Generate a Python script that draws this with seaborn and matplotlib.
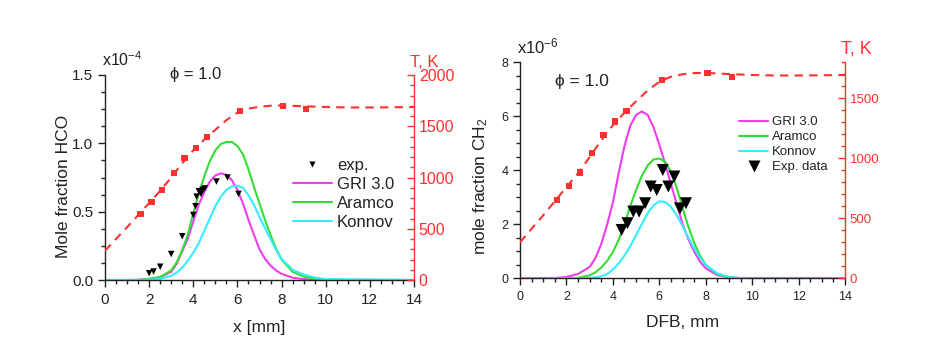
import matplotlib
matplotlib.use("Agg")
import matplotlib.pyplot as plt
from matplotlib.lines import Line2D
from matplotlib.ticker import MultipleLocator, FormatStrFormatter
import seaborn as sns

# common x grid of the model curves (mm)
x_grid = [0, 1.0, 1.5, 2.0, 2.5, 3.0, 3.25, 3.5, 3.75, 4.0, 4.25, 4.5, 4.75, 5.0, 5.25, 5.5,
          5.75, 6.0, 6.25, 6.5, 6.75, 7.0, 7.25, 7.5, 7.75, 8.0, 8.5, 9.0, 9.5, 10.0, 14.0]

# HCO mole fraction, units of 1e-4
hco_gri = [0, 0, 0.001, 0.008, 0.02, 0.06, 0.12, 0.21, 0.30, 0.43, 0.55, 0.645, 0.72, 0.765, 0.78, 0.77,
           0.73, 0.66, 0.56, 0.44, 0.33, 0.225, 0.155, 0.105, 0.07, 0.045, 0.017, 0.006, 0.002, 0, 0]
hco_aramco = [0, 0, 0.001, 0.008, 0.022, 0.07, 0.13, 0.22, 0.33, 0.49, 0.63, 0.76, 0.87, 0.95, 0.995, 1.01,
              1.01, 0.98, 0.92, 0.81, 0.68, 0.56, 0.44, 0.33, 0.23, 0.15, 0.06, 0.025, 0.009, 0.002, 0]
hco_konnov = [0, 0, 0, 0.002, 0.008, 0.03, 0.055, 0.09, 0.14, 0.2, 0.27, 0.36, 0.45, 0.54, 0.61, 0.66,
              0.685, 0.69, 0.675, 0.62, 0.55, 0.46, 0.38, 0.30, 0.22, 0.155, 0.075, 0.04, 0.018, 0.007, 0]
hco_exp_x = [2.0, 2.2, 2.5, 3.0, 3.5, 4.0, 4.1, 4.15, 4.25, 4.35, 4.42, 4.52, 5.05, 5.55, 6.05]
hco_exp_y = [0.05, 0.062, 0.097, 0.19, 0.32, 0.476, 0.54, 0.61, 0.65, 0.63, 0.66, 0.67, 0.72, 0.75, 0.63]

# CH2 mole fraction, units of 1e-6
ch2_gri = [0, 0, 0.01, 0.05, 0.16, 0.42, 0.75, 1.27, 1.98, 2.8, 3.9, 4.9, 5.65, 6.05, 6.18, 6.05,
           5.6, 4.95, 4.25, 3.5, 2.75, 2.02, 1.45, 1.0, 0.62, 0.37, 0.12, 0.03, 0.005, 0, 0]
ch2_aramco = [0, 0, 0, 0.003, 0.015, 0.11, 0.22, 0.4, 0.64, 0.97, 1.42, 2.0, 2.67, 3.27, 3.8, 4.18,
              4.4, 4.44, 4.32, 3.95, 3.35, 2.62, 1.92, 1.32, 0.85, 0.5, 0.15, 0.035, 0.006, 0, 0]
ch2_konnov = [0, 0, 0, 0.001, 0.005, 0.015, 0.035, 0.075, 0.16, 0.32, 0.55, 0.84, 1.19, 1.6, 2.02, 2.41,
              2.7, 2.85, 2.83, 2.65, 2.33, 1.94, 1.51, 1.11, 0.77, 0.5, 0.18, 0.05, 0.011, 0.002, 0]
ch2_exp_x = [4.38, 4.63, 4.88, 5.13, 5.39, 5.63, 5.89, 6.15, 6.39, 6.65, 6.89, 7.15]
ch2_exp_y = [1.79, 2.04, 2.47, 2.47, 2.78, 3.40, 3.27, 4.01, 3.40, 3.77, 2.59, 2.78]

# temperature, K
t_hco_x = [1.61, 2.11, 2.59, 3.11, 3.60, 4.12, 4.62, 6.11, 8.08, 9.09]
t_hco = [647, 758, 875, 1041, 1187, 1291, 1392, 1649, 1701, 1668]
t_hco_line_x = [0, 1, 2, 2.5, 3, 3.5, 4, 4.5, 5, 5.5, 6, 6.5, 7, 7.5, 8, 9, 10, 11, 12, 13, 14]
t_hco_line = [286, 515, 750, 870, 1000, 1140, 1265, 1370, 1465, 1560, 1632, 1672, 1690, 1700, 1703,
              1695, 1688, 1683, 1683, 1685, 1688]

t_ch2_x = [1.61, 2.10, 2.60, 3.10, 3.60, 4.09, 4.59, 6.10, 8.08, 9.12]
t_ch2 = [653, 769, 881, 1047, 1197, 1306, 1394, 1653, 1711, 1675]
t_ch2_line_x = [0, 1, 2, 2.5, 3, 3.5, 4, 4.5, 5, 5.5, 6, 6.5, 7, 7.5, 8, 9, 10, 11, 12, 13, 14]
t_ch2_line = [300, 525, 760, 875, 1010, 1150, 1275, 1380, 1475, 1565, 1638, 1680, 1700, 1710, 1712,
              1702, 1694, 1690, 1690, 1692, 1694]

sns.set_style("ticks")
plt.rcParams['font.family'] = ['Liberation Sans', 'DejaVu Sans']
plt.rcParams['mathtext.default'] = 'regular'

RED = '#ff3030'
MAG = '#f03cf0'
GRN = '#33dd33'
CYN = '#33eeff'
INK = '#222222'

W, H = 931, 364
fig = plt.figure(figsize=(W / 100, H / 100), dpi=100)


def px(x, y):
    return x / W, 1 - y / H


def setup(ax, axT, ymax, ymaj, ymin, tmax, fs, tfs):
    ax.set_xlim(0, 14)
    ax.set_ylim(0, ymax)
    axT.set_ylim(0, tmax)
    ax.xaxis.set_major_locator(MultipleLocator(2))
    ax.xaxis.set_minor_locator(MultipleLocator(0.5))
    ax.yaxis.set_major_locator(MultipleLocator(ymaj))
    ax.yaxis.set_minor_locator(MultipleLocator(ymin))
    axT.yaxis.set_major_locator(MultipleLocator(500))
    axT.yaxis.set_minor_locator(MultipleLocator(100))
    for s in ['top', 'right']:
        ax.spines[s].set_visible(False)
    for s in ['top', 'left', 'bottom']:
        axT.spines[s].set_visible(False)
    for s in ['left', 'bottom']:
        ax.spines[s].set_color(INK)
        ax.spines[s].set_linewidth(1.0)
    axT.spines['right'].set_color(RED)
    axT.spines['right'].set_linewidth(1.0)
    ax.tick_params(which='major', direction='out', length=5, width=1, color=INK,
                   labelsize=fs, labelcolor=INK)
    ax.tick_params(axis='x', which='major', pad=4.5)
    ax.tick_params(which='minor', direction='out', length=3, width=1, color=INK)
    axT.tick_params(axis='y', which='major', direction='in', length=5, width=1,
                    color=RED, labelcolor=RED, labelsize=tfs)
    axT.tick_params(axis='y', which='minor', direction='in', length=3, width=1, color=RED)
    ax.set_ylabel('')
    axT.set_ylabel('')


def curves(ax, axT, gri, aramco, konnov, ex, ey, ms, tx, ty, tlx, tly):
    sns.lineplot(x=x_grid, y=gri, ax=ax, color=MAG, lw=1.5)
    sns.lineplot(x=x_grid, y=aramco, ax=ax, color=GRN, lw=1.5)
    sns.lineplot(x=x_grid, y=konnov, ax=ax, color=CYN, lw=1.5)
    sns.scatterplot(x=ex, y=ey, ax=ax, marker='v', s=ms, color='black', edgecolor='none', zorder=5)
    sns.lineplot(x=tlx, y=tly, ax=axT, color=RED, lw=1.5, linestyle=(0, (4, 3)))
    sns.scatterplot(x=tx, y=ty, ax=axT, marker='s', s=20, color=RED, edgecolor='none', zorder=5)


# ---- left panel: HCO
ax1 = fig.add_axes([105 / W, 1 - 280 / H, 309 / W, 205 / H])
ax1T = ax1.twinx()
curves(ax1, ax1T, hco_gri, hco_aramco, hco_konnov, hco_exp_x, hco_exp_y, 22,
       t_hco_x, t_hco, t_hco_line_x, t_hco_line)
setup(ax1, ax1T, 1.5, 0.5, 0.125, 2000, 11, 11.5)
ax1.yaxis.set_major_formatter(FormatStrFormatter('%.1f'))
ax1.set_xlabel('x [mm]', fontsize=12.5, color=INK, labelpad=9.5)
ax1.set_ylabel('Mole fraction HCO', fontsize=12.5, color=INK)
ax1.yaxis.set_label_coords(-0.11, 0.454)

h1 = [Line2D([], [], ls='none', marker='v', ms=5, color='black', mec='none'),
      Line2D([], [], color=MAG, lw=1.5), Line2D([], [], color=GRN, lw=1.5),
      Line2D([], [], color=CYN, lw=1.5)]
leg1 = ax1.legend(h1, ['exp.', 'GRI 3.0', 'Aramco', 'Konnov'], loc='center left',
                  bbox_to_anchor=(0.608, 0.42), frameon=False, fontsize=12,
                  handlelength=2.35, handletextpad=0.3, labelspacing=0.24,
                  borderpad=0, borderaxespad=0)
for t in leg1.get_texts():
    t.set_color(INK)

fig.text(*px(102, 66), 'x10$^{-4}$', fontsize=11.5, color=INK, ha='left', va='baseline')
fig.text(*px(424, 67), 'T, K', fontsize=12, color=RED, ha='center', va='baseline')
fig.text(*px(170, 79), 'ϕ = 1.0', fontsize=12, color=INK, ha='left', va='baseline')

# ---- right panel: CH2
ax2 = fig.add_axes([520 / W, 1 - 278.3 / H, 325 / W, 216 / H])
ax2T = ax2.twinx()
curves(ax2, ax2T, ch2_gri, ch2_aramco, ch2_konnov, ch2_exp_x, ch2_exp_y, 75,
       t_ch2_x, t_ch2, t_ch2_line_x, t_ch2_line)
setup(ax2, ax2T, 8, 2, 0.5, 1800, 9, 9.5)
ax2.set_xlabel('DFB, mm', fontsize=12.5, color=INK, labelpad=8.5)
ax2.set_ylabel('mole fraction CH$_2$', fontsize=12.5, color=INK)
ax2.yaxis.set_label_coords(-0.092, 0.427)

h2 = [Line2D([], [], color=MAG, lw=1.5), Line2D([], [], color=GRN, lw=1.5),
      Line2D([], [], color=CYN, lw=1.5),
      Line2D([], [], ls='none', marker='v', ms=8.5, color='black', mec='none')]
leg2 = ax2.legend(h2, ['GRI 3.0', 'Aramco', 'Konnov', 'Exp. data'], loc='center left',
                  bbox_to_anchor=(0.674, 0.619), frameon=False, fontsize=9.5,
                  handlelength=2.2, handletextpad=0.3, labelspacing=0.21,
                  borderpad=0, borderaxespad=0)
for t in leg2.get_texts():
    t.set_color(INK)

fig.text(*px(517, 53), 'x10$^{-6}$', fontsize=12, color=INK, ha='left', va='baseline')
fig.text(*px(856, 53), 'T, K', fontsize=13, color=RED, ha='center', va='baseline')
fig.text(*px(555, 86), 'ϕ = 1.0', fontsize=12.5, color=INK, ha='left', va='baseline')

fig.savefig('out.png', dpi=100)
